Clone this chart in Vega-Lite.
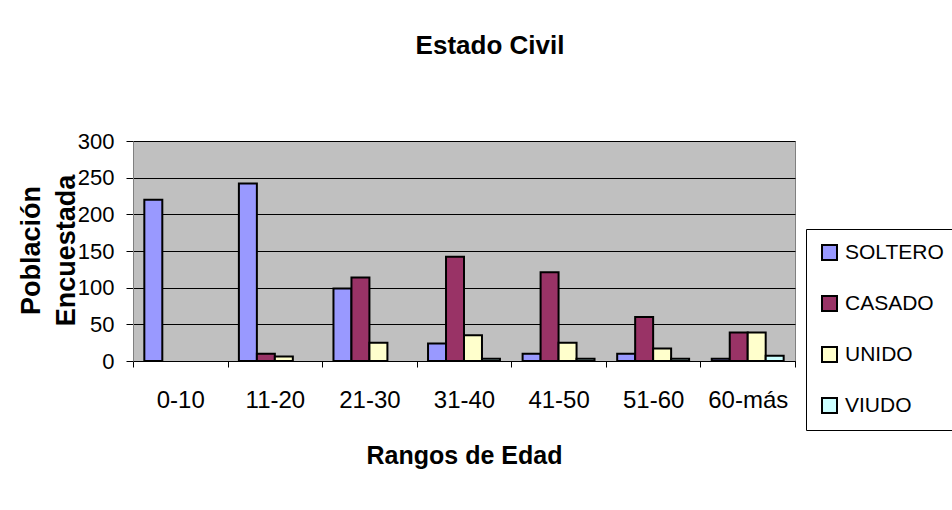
{
  "$schema": "https://vega.github.io/schema/vega-lite/v6.json",
  "width": 662,
  "height": 220,
  "autosize": {"type": "none"},
  "padding": {"left": 133, "top": 141, "right": 157, "bottom": 149},
  "background": "white",
  "title": {"text": "Estado Civil", "fontSize": 26, "fontWeight": "bold", "color": "#000", "anchor": "middle", "dx": 26, "offset": 71},
  "data": {"values": [
    {"edad": "0-10", "estado": "SOLTERO", "n": 220},
    {"edad": "0-10", "estado": "CASADO", "n": 0},
    {"edad": "0-10", "estado": "UNIDO", "n": 0},
    {"edad": "0-10", "estado": "VIUDO", "n": 0},
    {"edad": "11-20", "estado": "SOLTERO", "n": 242},
    {"edad": "11-20", "estado": "CASADO", "n": 10},
    {"edad": "11-20", "estado": "UNIDO", "n": 6},
    {"edad": "11-20", "estado": "VIUDO", "n": 0},
    {"edad": "21-30", "estado": "SOLTERO", "n": 99},
    {"edad": "21-30", "estado": "CASADO", "n": 114},
    {"edad": "21-30", "estado": "UNIDO", "n": 25},
    {"edad": "21-30", "estado": "VIUDO", "n": 0},
    {"edad": "31-40", "estado": "SOLTERO", "n": 24},
    {"edad": "31-40", "estado": "CASADO", "n": 142},
    {"edad": "31-40", "estado": "UNIDO", "n": 35},
    {"edad": "31-40", "estado": "VIUDO", "n": 3},
    {"edad": "41-50", "estado": "SOLTERO", "n": 10},
    {"edad": "41-50", "estado": "CASADO", "n": 121},
    {"edad": "41-50", "estado": "UNIDO", "n": 25},
    {"edad": "41-50", "estado": "VIUDO", "n": 3},
    {"edad": "51-60", "estado": "SOLTERO", "n": 10},
    {"edad": "51-60", "estado": "CASADO", "n": 60},
    {"edad": "51-60", "estado": "UNIDO", "n": 17},
    {"edad": "51-60", "estado": "VIUDO", "n": 3},
    {"edad": "60-más", "estado": "SOLTERO", "n": 3},
    {"edad": "60-más", "estado": "CASADO", "n": 39},
    {"edad": "60-más", "estado": "UNIDO", "n": 39},
    {"edad": "60-más", "estado": "VIUDO", "n": 7}
  ]},
  "mark": {"type": "bar", "stroke": "#000", "strokeWidth": 2},
  "encoding": {
    "x": {
      "field": "edad", "type": "nominal",
      "sort": ["0-10", "11-20", "21-30", "31-40", "41-50", "51-60", "60-más"],
      "scale": {"paddingInner": 0, "paddingOuter": 0},
      "axis": {
        "title": "Rangos de Edad", "titleFontSize": 25, "titleFontWeight": "bold", "titleColor": "#000", "titlePadding": 31,
        "labelAngle": 0, "labelFontSize": 24, "labelColor": "#000", "labelPadding": 21,
        "tickBand": "extent", "tickSize": 6, "tickColor": "#000", "domainColor": "#000", "grid": false
      }
    },
    "xOffset": {
      "field": "estado", "type": "nominal",
      "sort": ["SOLTERO", "CASADO", "UNIDO", "VIUDO"],
      "scale": {"paddingInner": 0, "paddingOuter": 0.63}
    },
    "y": {
      "field": "n", "type": "quantitative",
      "scale": {"domain": [0, 300], "nice": false},
      "axis": {
        "values": [0, 50, 100, 150, 200, 250, 300],
        "title": ["Población", "Encuestada"], "titleFontSize": 27, "titleFontWeight": "bold", "titleColor": "#000",
        "titleAngle": -90, "titleX": -102, "titleY": 109, "titleBaseline": "middle", "titleAlign": "center", "titleLineHeight": 35.5,
        "labelFontSize": 22, "labelColor": "#000", "labelPadding": 12,
        "tickSize": 7, "tickColor": "#000", "domainColor": "#808080",
        "grid": true, "gridColor": "#000", "gridOpacity": 1, "gridWidth": 1
      }
    },
    "color": {
      "field": "estado", "type": "nominal",
      "scale": {"domain": ["SOLTERO", "CASADO", "UNIDO", "VIUDO"], "range": ["#9999FF", "#993366", "#FFFFCC", "#CCFFFF"]},
      "legend": {
        "title": null, "orient": "none", "legendX": 673, "legendY": 88,
        "strokeColor": "#000", "fillColor": "#fff", "padding": 13, "rowPadding": 28,
        "symbolType": "square", "symbolSize": 225, "symbolStrokeColor": "#000", "symbolStrokeWidth": 2, "symbolOpacity": 1,
        "labelFontSize": 21, "labelColor": "#000", "labelOffset": 5, "labelLimit": 200
      }
    },
    "strokeOpacity": {"condition": {"test": "datum.n === 0", "value": 0}, "value": 1}
  },
  "config": {
    "font": "Liberation Sans",
    "view": {"fill": "#C0C0C0", "stroke": "#808080", "strokeWidth": 1}
  }
}
